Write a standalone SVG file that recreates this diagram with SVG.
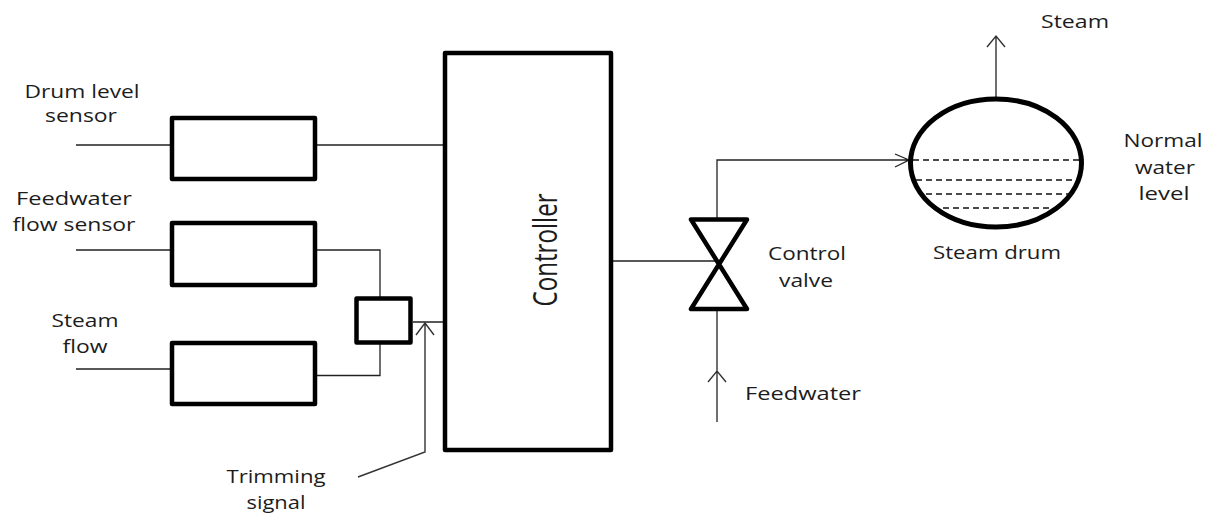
<svg xmlns="http://www.w3.org/2000/svg" width="1207" height="513" viewBox="0 0 1207 513">
<style>
.b{fill:#fff;stroke:#000;stroke-width:4.500;stroke-linejoin:round}
.c{fill:none;stroke:#222;stroke-width:1.3}
.a{fill:none;stroke:#333;stroke-width:1.4}
.d{fill:none;stroke:#111;stroke-width:1.3;stroke-dasharray:6 4}
text{font-family:"Open Sans","Liberation Sans",sans-serif;font-size:19px;fill:#1c1c1c;text-anchor:middle}
</style>
<rect width="1207" height="513" fill="#fff"/>
<g id="connectors">
<path class="c" d="M76 145H170M317 145H443M76 250H170M317 250H380V297M76 369H170M317 375.500H380V344M413 322H443"/>
<path class="a" d="M358 477L425 452V323M416 335L425 323L434 335"/>
<path class="c" d="M613 261H717M717 218V160H908M895 154L909 160L895 167"/>
<path class="a" d="M717 422V311M708 382L717 371L726 382"/>
<path class="a" d="M996 98V36M987 47L996 36L1005 47"/>
</g>
<g id="drum-level-box"><rect class="b" x="172" y="118" width="143" height="61"/>
<text x="82" y="98" textLength="115" lengthAdjust="spacingAndGlyphs">Drum level</text>
<text x="81" y="122" textLength="72" lengthAdjust="spacingAndGlyphs">sensor</text></g>
<g id="feedwater-flow-box"><rect class="b" x="172" y="223" width="143" height="62"/>
<text x="74" y="205" textLength="116" lengthAdjust="spacingAndGlyphs">Feedwater</text>
<text x="74" y="231" textLength="123" lengthAdjust="spacingAndGlyphs">flow sensor</text></g>
<g id="steam-flow-box"><rect class="b" x="172" y="343" width="143" height="61"/>
<text x="85" y="327" textLength="67" lengthAdjust="spacingAndGlyphs">Steam</text>
<text x="85" y="353" textLength="45" lengthAdjust="spacingAndGlyphs">flow</text></g>
<g id="summing-box"><rect class="b" x="356.500" y="298.500" width="54" height="44"/></g>
<g id="trimming-signal">
<text x="276" y="483" textLength="99" lengthAdjust="spacingAndGlyphs">Trimming</text>
<text x="276" y="509" textLength="59" lengthAdjust="spacingAndGlyphs">signal</text></g>
<g id="controller"><rect class="b" x="445" y="53" width="166" height="397"/>
<text transform="translate(557 250) rotate(-90) scale(1.15 1.6)" style="font-size:21px">Controller</text></g>
<g id="control-valve"><path class="b" style="fill:none" d="M691 219.500H747L691 309H747Z"/>
<text x="807" y="260" textLength="78" lengthAdjust="spacingAndGlyphs">Control</text>
<text x="806" y="287" textLength="54" lengthAdjust="spacingAndGlyphs">valve</text></g>
<g id="steam-drum">
<ellipse cx="996" cy="163" rx="85.500" ry="64" fill="#fff" stroke="#000" stroke-width="5"/>
<path class="d" d="M913 160H1084M916 180H1072M926 194H1076M943 208H1052"/>
<text x="997" y="259" textLength="128" lengthAdjust="spacingAndGlyphs">Steam drum</text>
<text x="1163" y="147" textLength="79" lengthAdjust="spacingAndGlyphs">Normal</text>
<text x="1165" y="174" textLength="60" lengthAdjust="spacingAndGlyphs">water</text>
<text x="1164" y="200" textLength="51" lengthAdjust="spacingAndGlyphs">level</text></g>
<g id="labels">
<text x="1075" y="28" textLength="68" lengthAdjust="spacingAndGlyphs">Steam</text>
<text x="803" y="400" textLength="116" lengthAdjust="spacingAndGlyphs">Feedwater</text></g>
</svg>
